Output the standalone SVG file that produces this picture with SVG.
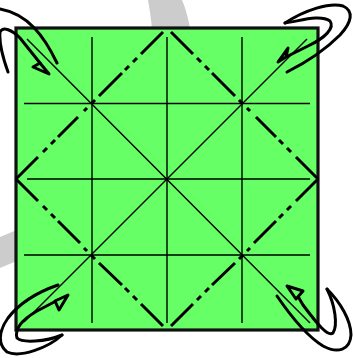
<svg xmlns="http://www.w3.org/2000/svg" width="353" height="358" viewBox="0 0 353 358">
<style>
.thin{fill:none;stroke:#000;stroke-width:1.4}
.fold{fill:none;stroke:#000;stroke-width:3}
.curve{fill:none;stroke:#000;stroke-width:3;stroke-linecap:round;stroke-linejoin:round}
.head{fill:#66ff66;stroke:#000;stroke-width:3;stroke-linejoin:round}
</style>
<g id="background">
<path d="M148 0H182C186 9 188 18 190 28L192 60C190 150 130 215 0 268V237C120 190 170 120 148 0Z" fill="#cccccc"/>
</g>
<g id="sheet">
<rect x="16" y="28" width="302" height="302" fill="#66ff66" stroke="#111" stroke-width="3.2"/>
</g>
<g id="connectors">
<path class="thin" d="M92 37V323M167 37V323M242 37V323M24 103.500H310M27 179H310M24 255H310"/>
<path class="thin" d="M27 39L310 323M307 39L24 322"/>
<path class="fold" d="M16 179L38 157M43 152L47 148M51 144L55 140M58 137L78 117M84 111L87 108M91 104L95 100M99 96L122 73M125 70L129 66M133 62L137 58M141 54L163 32"/>
<path class="fold" d="M318 179L296 157M291 152L287 148M283 144L279 140M276 137L256 117M250 111L247 108M243 104L239 100M235 96L212 73M209 70L205 66M201 62L197 58M193 54L171 32"/>
<path class="fold" d="M16 179L38 201M43 206L47 210M51 214L55 218M58 221L80 243M84 248L87 251M91 255L95 259M99 263L122 285M125 288L129 292M133 296L137 300M141 304L163 326"/>
<path class="fold" d="M318 179L296 201M291 206L287 210M283 214L279 218M276 221L254 243M250 248L247 251M243 255L239 259M235 263L212 285M209 288L205 292M201 296L197 300M193 304L171 326"/>
</g>
<g id="arrow-top-left">
<path class="curve" d="M0 9C28 14 44 36 57 63"/>
<path class="curve" d="M8 72C3 58 -1 42 0 32C3 26 12 30 20 38L40 63"/>
<path class="head" d="M49 74L33 67L40 63Z"/>
</g>
<g id="arrow-top-right">
<path class="curve" d="M285 23C305 10 330 2 343 6C354 11 352 22 340 35C325 50 305 63 287 72"/>
<path class="curve" d="M285 23C300 21 320 14 330 21C335 28 325 38 308 46L286 57"/>
<path class="head" d="M278 62L288 48L286 57Z"/>
</g>
<g id="arrow-bottom-left">
<path class="curve" d="M58 285C35 293 18 305 8 318C-2 332 -2 345 7 352C20 358 48 348 62 335"/>
<path class="curve" d="M62 335C45 342 22 343 17 338C14 328 25 318 37 311L58 300"/>
<path class="head" d="M68 295L55 301L59 310Z"/>
</g>
<g id="arrow-bottom-right">
<path class="curve" d="M277 296C290 315 305 335 323 346C338 354 350 350 351 335C351 320 340 302 327 289"/>
<path class="curve" d="M327 289C335 305 338 325 333 333C328 337 318 325 303 305L296 293"/>
<path class="head" d="M287 286L303 291L296 299Z"/>
</g>
</svg>
